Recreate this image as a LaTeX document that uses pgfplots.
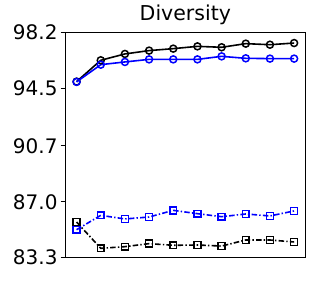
\documentclass[border=0pt]{standalone}
\usepackage{pgfplots}
\pgfplotsset{compat=1.18}
\usepackage{fontspec}
\setmainfont{DejaVu Sans}
\begin{document}
\begin{tikzpicture}
\useasboundingbox (0,0) rectangle (316pt,281pt);
\begin{axis}[
  at={(65.7pt,23.3pt)}, anchor=south west,
  scale only axis, width=239.3pt, height=225.4pt,
  xmin=-0.45, xmax=9.45, ymin=83.3, ymax=98.2,
  xtick=\empty,
  ytick={83.3,87.0,90.7,94.5,98.2},
  yticklabels={83.3,87.0,90.7,94.5,98.2},
  tick align=outside, major tick length=5pt,
  ytick pos=left,
  axis line style={line width=0.8pt},
  every tick/.style={black, line width=0.8pt},
  yticklabel style={font=\fontsize{20}{24}\selectfont, inner sep=0pt, xshift=-3pt},
  /pgf/number format/assume math mode=true,
  title={Diversity},
  title style={font=\fontsize{20.5}{24}\selectfont, at={(0.5,1)}, anchor=base, yshift=6pt, inner sep=0pt},
  clip=false,
]
\addplot[black, line width=1.6pt, mark=o, mark size=3.5pt, mark options={solid, line width=1.5pt, fill=none}]
coordinates {(0,94.94) (1,96.35) (2,96.77) (3,96.99) (4,97.12) (5,97.27) (6,97.21) (7,97.45) (8,97.38) (9,97.49)};
\addplot[blue, line width=1.6pt, mark=o, mark size=3.5pt, mark options={solid, line width=1.5pt, fill=none}]
coordinates {(0,94.92) (1,96.06) (2,96.24) (3,96.41) (4,96.41) (5,96.41) (6,96.61) (7,96.48) (8,96.46) (9,96.46)};
\addplot[blue, line width=1.6pt, dash pattern=on 5.5pt off 2.2pt on 1.4pt off 2.2pt, mark=square, mark size=3.4pt, mark options={solid, line width=1.5pt, fill=none}]
coordinates {(0,85.15) (1,86.10) (2,85.86) (3,85.99) (4,86.43) (5,86.21) (6,86.01) (7,86.19) (8,86.06) (9,86.39)};
\addplot[black, line width=1.6pt, dash pattern=on 5.5pt off 2.2pt on 1.4pt off 2.2pt, mark=square, mark size=3.4pt, mark options={solid, line width=1.5pt, fill=none}]
coordinates {(0,85.66) (1,83.92) (2,84.03) (3,84.23) (4,84.12) (5,84.14) (6,84.07) (7,84.47) (8,84.47) (9,84.34)};
\end{axis}
\end{tikzpicture}
\end{document}
